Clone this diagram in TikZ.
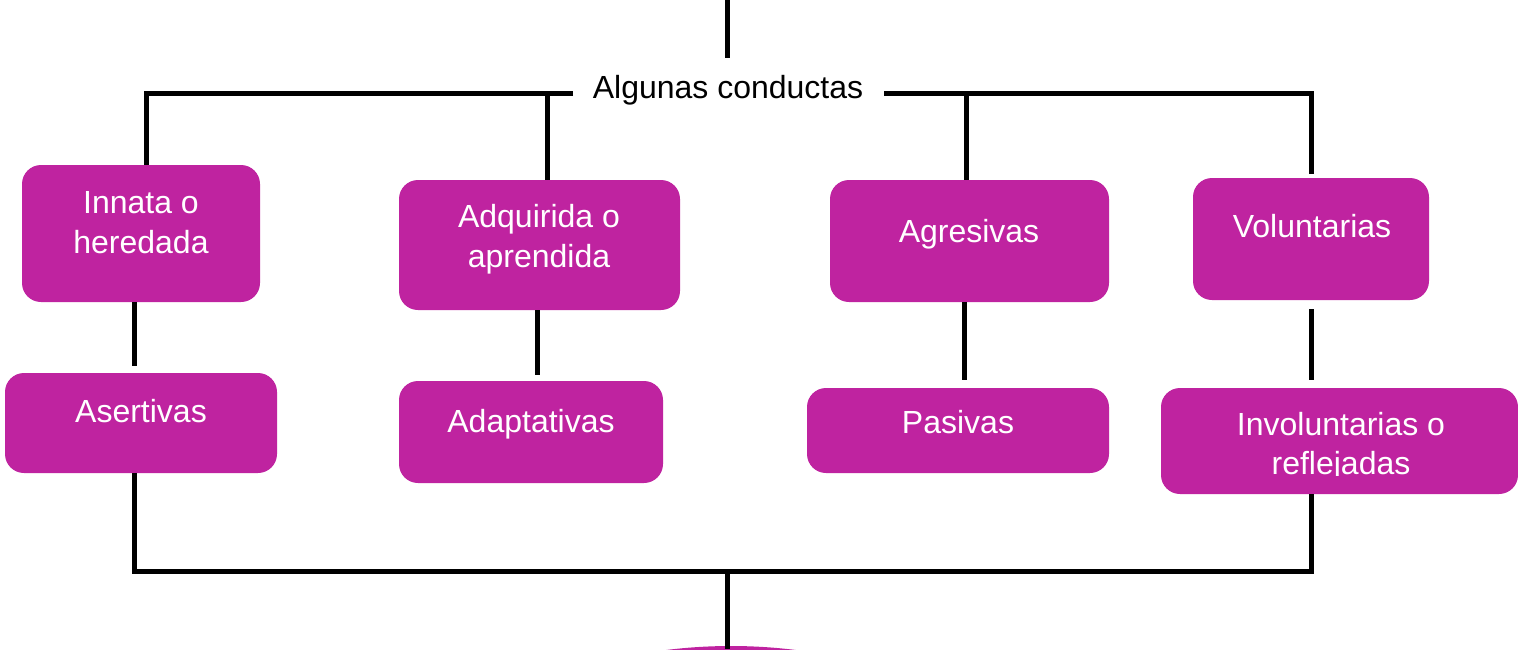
\documentclass[tikz,border=0pt]{standalone}
\usepackage{fontspec}
\setmainfont{Liberation Sans}
\definecolor{mag}{HTML}{BF23A0}
\begin{document}
\begin{tikzpicture}[x=1pt,y=-1pt,
  box/.style={fill=mag, draw=none, rounded corners=19pt, inner sep=0pt},
  lbl/.style={text=white, font=\fontsize{32}{40}\selectfont, inner sep=0pt, anchor=base},
  ttl/.style={text=black, font=\fontsize{32}{40}\selectfont, inner sep=0pt, anchor=base},
  conn/.style={line width=5pt, black}]
\useasboundingbox (0,0) rectangle (1518,649);
\clip (0,0) rectangle (1518,649);
% boxes
\node[box, minimum width=238pt, minimum height=137pt] (innata) at (141,233.5) {};
\node[box, minimum width=281pt, minimum height=130pt] (adq) at (539.5,245) {};
\node[box, minimum width=279pt, minimum height=122pt] (agr) at (969.5,241) {};
\node[box, minimum width=236pt, minimum height=122pt] (vol) at (1311,239) {};
\node[box, minimum width=272pt, minimum height=100pt] (aser) at (141,423) {};
\node[box, minimum width=264pt, minimum height=102pt] (adap) at (531,432) {};
\node[box, minimum width=302pt, minimum height=85pt] (pas) at (958,430.5) {};
\node[box, minimum width=357pt, minimum height=106pt] (invol) at (1339.5,441) {};
% labels
\node[lbl] (innataT1) at (141,213) {Innata o};
\node[lbl] (innataT2) at (141,253) {heredada};
\node[lbl] (adqT1) at (539,227) {Adquirida o};
\node[lbl] (adqT2) at (539,267) {aprendida};
\node[lbl] (agrT) at (969,242) {Agresivas};
\node[lbl] (volT) at (1312,237) {Voluntarias};
\node[lbl] (aserT) at (141,422) {Asertivas};
\node[lbl] (adapT) at (531,432) {Adaptativas};
\node[lbl] (pasT) at (958,433) {Pasivas};
\node[lbl] (involT1) at (1341,435) {Involuntarias o};
\begin{scope}
\clip (1161,388) rectangle (1518,475.5);
\node[lbl] (involT2) at (1341,474) {reflejadas};
\end{scope}
\node[ttl] (title) at (728,98) {Algunas conductas};
% top connectors
\coordinate (topA) at (727,0); \coordinate (topB) at (727,58);
\draw[conn] (topA) -- (topB);
\coordinate (tl) at (573,93); \coordinate (tr) at (884,93);
\coordinate (cL) at (146,93); \coordinate (cR) at (1311,93);
\draw[conn] (tl) -- (cL) -- (cL |- innata.north);
\coordinate (j2) at (547,93); \draw[conn] (j2) -- (j2 |- adq.north);
\coordinate (j3) at (966,93); \draw[conn] (j3) -- (j3 |- agr.north);
\coordinate (volTop) at (1311,174);
\draw[conn] (tr) -- (cR) -- (volTop);
% middle connectors
\coordinate (xA) at (134,366); \draw[conn] (innata.south -| xA) -- (xA);
\coordinate (xB) at (537,375); \draw[conn] (adq.south -| xB) -- (xB);
\coordinate (xC) at (964,380); \draw[conn] (agr.south -| xC) -- (xC);
\coordinate (xD1) at (1311,309); \coordinate (xD2) at (1311,380);
\draw[conn] (xD1) -- (xD2);
% bottom
\fill[mag] (731,1166) circle[radius=520pt];
\coordinate (bL) at (134,571); \coordinate (bR) at (1311,571);
\draw[conn] (aser.south -| bL) -- (bL) -- (bR) -- (invol.south -| bR);
\coordinate (bM) at (727,571); \coordinate (bEnd) at (727,649);
\draw[conn] (bM) -- (bEnd);
\end{tikzpicture}
\end{document}
